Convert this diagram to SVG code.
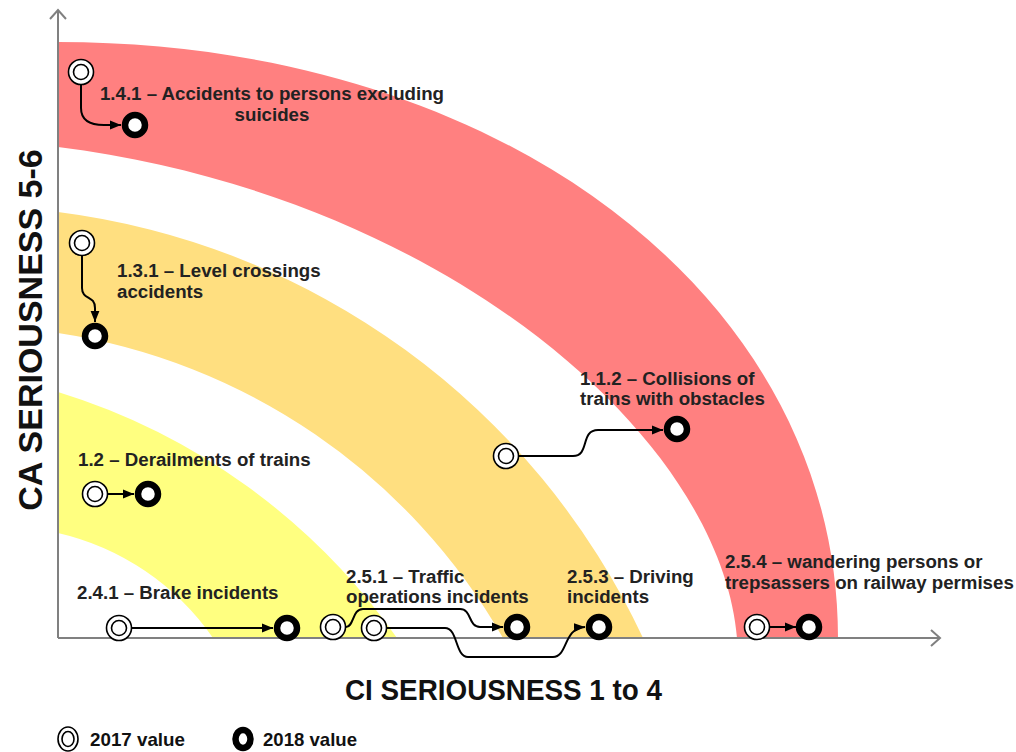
<svg xmlns="http://www.w3.org/2000/svg" width="1016" height="752" viewBox="0 0 1016 752">
<style>
.lbl{font-family:"Liberation Sans",Arial,sans-serif;font-weight:bold;font-size:18.7px;fill:#222}
.axt{font-family:"Liberation Sans",Arial,sans-serif;font-weight:bold;fill:#111}
.o17{fill:#fff;stroke:#000;stroke-width:1.6}
.o18{fill:#fff;stroke:#000;stroke-width:6.5}
.con{fill:none;stroke:#000;stroke-width:2}
.axis{fill:none;stroke:#808080;stroke-width:2}
</style>
<defs>
<marker id="ah" viewBox="0 0 10 10" refX="10" refY="5" markerWidth="11" markerHeight="11" markerUnits="userSpaceOnUse" orient="auto"><path d="M0,1 L10,5 L0,9 Z" fill="#000"/></marker>
</defs>
<rect width="1016" height="752" fill="#fff"/>
<g id="bands">
<path id="band-red" d="M58,42 C503,42 838,298 838,638 L737,638 C720,435 440,195 58,147 Z" fill="#ff8080"/>
<path id="band-orange" d="M58,212 A750,750 0 0 1 643,638 L503,638 A620,620 0 0 0 58,333 Z" fill="#ffdf80"/>
<path id="band-yellow" d="M58,392 A647,647 0 0 1 397,638 L213,638 A260,260 0 0 0 58,533 Z" fill="#ffff80"/>
</g>
<g id="axes">
<path class="axis" d="M58,638 L58,10 M50,19 L58,10 L66,19"/>
<path class="axis" d="M58,638 L940,638 M931,630 L940,638 L931,646"/>
<text class="axt" font-size="34" text-anchor="middle" transform="translate(42,330) rotate(-90)">CA SERIOUSNESS 5-6</text>
<text class="axt" font-size="29" x="345" y="700" textLength="317" lengthAdjust="spacingAndGlyphs">CI SERIOUSNESS 1 to 4</text>
</g>
<g id="connectors">
<path class="con" marker-end="url(#ah)" d="M81,85 L81,108 C81,122 92,125 104,125 L121,125"/>
<path class="con" marker-end="url(#ah)" d="M82,256 L82,288 C82,300 95,295 95,308 L95,322"/>
<path class="con" marker-end="url(#ah)" d="M108,494 L134,494"/>
<path class="con" marker-end="url(#ah)" d="M132,628 L273,628"/>
<path class="con" marker-end="url(#ah)" d="M346,627 C354,627 352,609 363,609 L460,609 C472,609 468,627 480,627 L503,627"/>
<path class="con" marker-end="url(#ah)" d="M387,628 L445,628 C458,628 455,657 468,657 L553,657 C568,657 563,628 585,627"/>
<path class="con" marker-end="url(#ah)" d="M519,456 L573,456 C590,456 580,430 598,430 L663,430"/>
<path class="con" marker-end="url(#ah)" d="M770,627 L796,627"/>
</g>
<g id="n141">
<circle class="o17" cx="81" cy="72" r="12.5"/><circle class="o17" cx="81" cy="72" r="7.5"/>
<circle class="o18" cx="135" cy="125" r="10"/>
<text class="lbl" text-anchor="middle" x="272" y="100">1.4.1 – Accidents to persons excluding</text>
<text class="lbl" text-anchor="middle" x="272" y="121">suicides</text>
</g>
<g id="n131">
<circle class="o17" cx="82" cy="243" r="12.5"/><circle class="o17" cx="82" cy="243" r="7.5"/>
<circle class="o18" cx="95" cy="336" r="10"/>
<text class="lbl" x="117" y="277">1.3.1 – Level crossings</text>
<text class="lbl" x="117" y="298">accidents</text>
</g>
<g id="n12">
<circle class="o17" cx="95" cy="494" r="12.5"/><circle class="o17" cx="95" cy="494" r="7.5"/>
<circle class="o18" cx="148" cy="494" r="10"/>
<text class="lbl" x="78" y="466">1.2 – Derailments of trains</text>
</g>
<g id="n241">
<circle class="o17" cx="119" cy="628" r="12.5"/><circle class="o17" cx="119" cy="628" r="7.5"/>
<circle class="o18" cx="287" cy="628" r="10"/>
<text class="lbl" x="77" y="599">2.4.1 – Brake incidents</text>
</g>
<g id="n251">
<circle class="o17" cx="333" cy="627" r="12.5"/><circle class="o17" cx="333" cy="627" r="7.5"/>
<circle class="o18" cx="517" cy="627" r="10"/>
<text class="lbl" x="346" y="583">2.5.1 – Traffic</text>
<text class="lbl" x="346" y="603">operations incidents</text>
</g>
<g id="n253">
<circle class="o17" cx="374" cy="628" r="12.5"/><circle class="o17" cx="374" cy="628" r="7.5"/>
<circle class="o18" cx="599" cy="627" r="10"/>
<text class="lbl" x="567" y="583">2.5.3 – Driving</text>
<text class="lbl" x="567" y="603">incidents</text>
</g>
<g id="n112">
<circle class="o17" cx="506" cy="456" r="12.5"/><circle class="o17" cx="506" cy="456" r="7.5"/>
<circle class="o18" cx="677" cy="429" r="10"/>
<text class="lbl" x="580" y="385">1.1.2 – Collisions of</text>
<text class="lbl" x="580" y="405">trains with obstacles</text>
</g>
<g id="n254">
<circle class="o17" cx="757" cy="627" r="12.5"/><circle class="o17" cx="757" cy="627" r="7.5"/>
<circle class="o18" cx="809" cy="627" r="10"/>
<text class="lbl" x="725" y="568">2.5.4 – wandering persons or</text>
<text class="lbl" x="725" y="589">trepsassers on railway permises</text>
</g>
<g id="legend">
<ellipse class="o17" cx="68" cy="739" rx="10" ry="12"/><ellipse class="o17" cx="68" cy="739" rx="6" ry="7.5"/>
<text class="axt" font-size="19" x="90" y="746" textLength="95" lengthAdjust="spacingAndGlyphs">2017 value</text>
<ellipse class="o18" cx="243" cy="739" rx="7.5" ry="9"/>
<text class="axt" font-size="19" x="263" y="746" textLength="94" lengthAdjust="spacingAndGlyphs">2018 value</text>
</g>
</svg>
